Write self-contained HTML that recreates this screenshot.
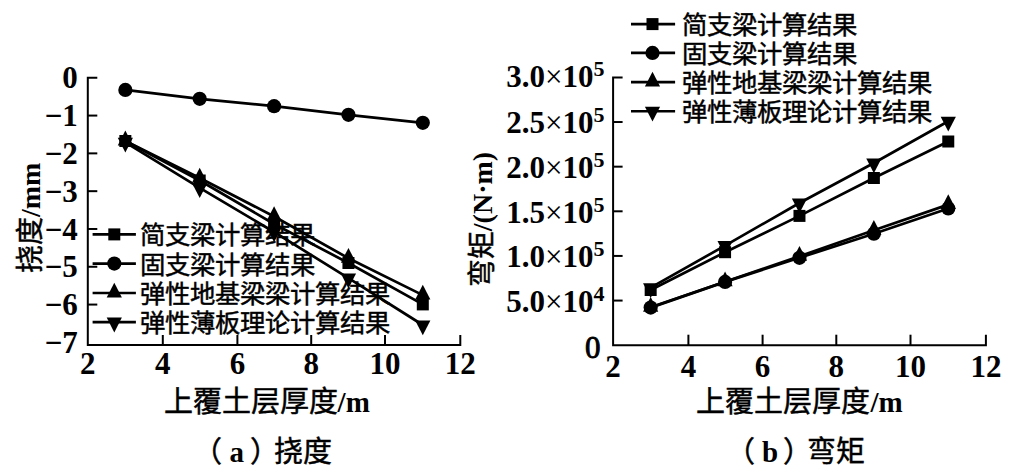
<!DOCTYPE html>
<html lang="zh-CN"><head><meta charset="utf-8"><title>chart</title>
<style>
html,body{margin:0;padding:0;background:#fff;width:1016px;height:472px;overflow:hidden}
svg{display:block}
text{font-family:"Liberation Serif",serif;font-weight:bold;fill:#000}
.tk{font-size:31px}
.sup{font-size:22px}
.x{font-weight:normal}
.z{font-size:31px;font-weight:normal;stroke:#000;stroke-width:0.9px}
.cjk{font-size:25.4px;font-weight:normal;stroke:#000;stroke-width:0.45px}
.c{font-weight:normal;stroke:#000;stroke-width:0.45px}
.ttl{font-size:29px}
.cap{font-size:29px}
.yt{font-size:28px}
</style></head><body>
<svg width="1016" height="472" viewBox="0 0 1016 472">
<rect width="1016" height="472" fill="#fff"/>
<path d="M97.3,77.77H87.8V345H460.3V335" fill="none" stroke="#000" stroke-width="2"/>
<text x="77.8" y="88.47" text-anchor="end" class="tk">0</text>
<line x1="87.8" y1="115.57" x2="97.3" y2="115.57" stroke="#000" stroke-width="2"/>
<text x="77.8" y="126.27" text-anchor="end" class="tk">−1</text>
<line x1="87.8" y1="153.37" x2="97.3" y2="153.37" stroke="#000" stroke-width="2"/>
<text x="77.8" y="164.07" text-anchor="end" class="tk">−2</text>
<line x1="87.8" y1="191.17" x2="97.3" y2="191.17" stroke="#000" stroke-width="2"/>
<text x="77.8" y="201.87" text-anchor="end" class="tk">−3</text>
<line x1="87.8" y1="228.97" x2="97.3" y2="228.97" stroke="#000" stroke-width="2"/>
<text x="77.8" y="239.67" text-anchor="end" class="tk">−4</text>
<line x1="87.8" y1="266.77" x2="97.3" y2="266.77" stroke="#000" stroke-width="2"/>
<text x="77.8" y="277.47" text-anchor="end" class="tk">−5</text>
<line x1="87.8" y1="304.57" x2="97.3" y2="304.57" stroke="#000" stroke-width="2"/>
<text x="77.8" y="315.27" text-anchor="end" class="tk">−6</text>
<text x="77.8" y="353.07" text-anchor="end" class="tk">−7</text>
<line x1="162.8" y1="345" x2="162.8" y2="335" stroke="#000" stroke-width="2"/>
<line x1="237.4" y1="345" x2="237.4" y2="335" stroke="#000" stroke-width="2"/>
<line x1="311.2" y1="345" x2="311.2" y2="335" stroke="#000" stroke-width="2"/>
<line x1="385" y1="345" x2="385" y2="335" stroke="#000" stroke-width="2"/>
<text x="87.8" y="373.5" text-anchor="middle" class="tk">2</text>
<text x="162.8" y="373.5" text-anchor="middle" class="tk">4</text>
<text x="237.4" y="373.5" text-anchor="middle" class="tk">6</text>
<text x="311.2" y="373.5" text-anchor="middle" class="tk">8</text>
<text x="385" y="373.5" text-anchor="middle" class="tk">10</text>
<text x="460.3" y="373.5" text-anchor="middle" class="tk">12</text>
<polyline points="125.35,89.9 199.7,98.8 274.1,106.2 348.45,114.8 422.8,122.8" fill="none" stroke="#000" stroke-width="2.7" stroke-linejoin="round"/><circle cx="125.35" cy="89.9" r="7.1"/><circle cx="199.7" cy="98.8" r="7.1"/><circle cx="274.1" cy="106.2" r="7.1"/><circle cx="348.45" cy="114.8" r="7.1"/><circle cx="422.8" cy="122.8" r="7.1"/>
<polyline points="125.35,141 199.7,180.5 274.1,224 348.45,263 422.8,304.4" fill="none" stroke="#000" stroke-width="2.7" stroke-linejoin="round"/><rect x="119.35" y="135" width="12" height="12"/><rect x="193.7" y="174.5" width="12" height="12"/><rect x="268.1" y="218" width="12" height="12"/><rect x="342.45" y="257" width="12" height="12"/><rect x="416.8" y="298.4" width="12" height="12"/>
<polyline points="125.35,140.9 199.7,178 274.1,216.5 348.45,258.2 422.8,295.1" fill="none" stroke="#000" stroke-width="2.7" stroke-linejoin="round"/><path d="M125.35,130.6L132.95,145.4L117.75,145.4Z"/><path d="M199.7,167.7L207.3,182.5L192.1,182.5Z"/><path d="M274.1,206.2L281.7,221L266.5,221Z"/><path d="M348.45,247.9L356.05,262.7L340.85,262.7Z"/><path d="M422.8,284.8L430.4,299.6L415.2,299.6Z"/>
<polyline points="125.35,142.3 199.7,187.8 274.1,232 348.45,278.1 422.8,325" fill="none" stroke="#000" stroke-width="2.7" stroke-linejoin="round"/><path d="M117.75,137.8L132.95,137.8L125.35,152.6Z"/><path d="M192.1,183.3L207.3,183.3L199.7,198.1Z"/><path d="M266.5,227.5L281.7,227.5L274.1,242.3Z"/><path d="M340.85,273.6L356.05,273.6L348.45,288.4Z"/><path d="M415.2,320.5L430.4,320.5L422.8,335.3Z"/>
<line x1="92.6" y1="234.4" x2="135.9" y2="234.4" stroke="#000" stroke-width="2.6"/><rect x="108.3" y="228.4" width="12" height="12"/><text class="cjk" x="139.7" y="244.4">简支梁计算结果</text><line x1="92.6" y1="263.6" x2="135.9" y2="263.6" stroke="#000" stroke-width="2.6"/><circle cx="114.3" cy="263.6" r="7.1"/><text class="cjk" x="139.7" y="273.6">固支梁计算结果</text><line x1="92.6" y1="293" x2="135.9" y2="293" stroke="#000" stroke-width="2.6"/><path d="M114.3,282.7L121.9,297.5L106.7,297.5Z"/><text class="cjk" x="139.7" y="303">弹性地基梁梁计算结果</text><line x1="92.6" y1="322.1" x2="135.9" y2="322.1" stroke="#000" stroke-width="2.6"/><path d="M106.7,317.6L121.9,317.6L114.3,332.4Z"/><text class="cjk" x="139.7" y="332.1">弹性薄板理论计算结果</text>
<text class="ttl yt" transform="translate(40,217.8) rotate(-90)" text-anchor="middle"><tspan class="c">挠度</tspan>/mm</text>
<text class="ttl" x="266.7" y="412" text-anchor="middle"><tspan class="c">上覆土层厚度</tspan>/m</text>
<text class="cap c" x="193.3" y="462">（</text><text class="cap" x="229.5" y="462">a</text><text class="cap c" x="250.2" y="462">）</text><text class="cap c" x="273.5" y="462">挠度</text>
<path d="M622.6,77.4H613.1V345.2H985.9V334.7" fill="none" stroke="#000" stroke-width="2"/>
<text x="600.5" y="357.7" text-anchor="end" class="tk z">0</text>
<line x1="613.1" y1="300.57" x2="622.6" y2="300.57" stroke="#000" stroke-width="2"/>
<text x="604.5" y="311.77" text-anchor="end" class="tk">5.0<tspan class="x">×</tspan>10<tspan class="sup" dy="-10.9">4</tspan></text>
<line x1="613.1" y1="255.93" x2="622.6" y2="255.93" stroke="#000" stroke-width="2"/>
<text x="604.5" y="267.13" text-anchor="end" class="tk">1.0<tspan class="x">×</tspan>10<tspan class="sup" dy="-10.9">5</tspan></text>
<line x1="613.1" y1="211.3" x2="622.6" y2="211.3" stroke="#000" stroke-width="2"/>
<text x="604.5" y="222.5" text-anchor="end" class="tk">1.5<tspan class="x">×</tspan>10<tspan class="sup" dy="-10.9">5</tspan></text>
<line x1="613.1" y1="166.67" x2="622.6" y2="166.67" stroke="#000" stroke-width="2"/>
<text x="604.5" y="177.87" text-anchor="end" class="tk">2.0<tspan class="x">×</tspan>10<tspan class="sup" dy="-10.9">5</tspan></text>
<line x1="613.1" y1="122.03" x2="622.6" y2="122.03" stroke="#000" stroke-width="2"/>
<text x="604.5" y="133.23" text-anchor="end" class="tk">2.5<tspan class="x">×</tspan>10<tspan class="sup" dy="-10.9">5</tspan></text>
<text x="604.5" y="87.1" text-anchor="end" class="tk">3.0<tspan class="x">×</tspan>10<tspan class="sup" dy="-10.9">5</tspan></text>
<line x1="688.4" y1="345.2" x2="688.4" y2="334.7" stroke="#000" stroke-width="2"/>
<line x1="762.6" y1="345.2" x2="762.6" y2="334.7" stroke="#000" stroke-width="2"/>
<line x1="836.3" y1="345.2" x2="836.3" y2="334.7" stroke="#000" stroke-width="2"/>
<line x1="910.5" y1="345.2" x2="910.5" y2="334.7" stroke="#000" stroke-width="2"/>
<text x="613.1" y="376.8" text-anchor="middle" class="tk">2</text>
<text x="688.4" y="376.8" text-anchor="middle" class="tk">4</text>
<text x="762.6" y="376.8" text-anchor="middle" class="tk">6</text>
<text x="836.3" y="376.8" text-anchor="middle" class="tk">8</text>
<text x="910.5" y="376.8" text-anchor="middle" class="tk">10</text>
<text x="985.9" y="376.8" text-anchor="middle" class="tk">12</text>
<polyline points="650.67,307.6 725.07,281.9 799.47,257.8 873.87,233.7 948.27,208.5" fill="none" stroke="#000" stroke-width="2.7" stroke-linejoin="round"/><circle cx="650.67" cy="307.6" r="7.1"/><circle cx="725.07" cy="281.9" r="7.1"/><circle cx="799.47" cy="257.8" r="7.1"/><circle cx="873.87" cy="233.7" r="7.1"/><circle cx="948.27" cy="208.5" r="7.1"/>
<polyline points="650.67,307.3 725.07,281.8 799.47,256.2 873.87,230.2 948.27,204.6" fill="none" stroke="#000" stroke-width="2.7" stroke-linejoin="round"/><path d="M650.67,297L658.27,311.8L643.07,311.8Z"/><path d="M725.07,271.5L732.67,286.3L717.47,286.3Z"/><path d="M799.47,245.9L807.07,260.7L791.87,260.7Z"/><path d="M873.87,219.9L881.47,234.7L866.27,234.7Z"/><path d="M948.27,194.3L955.87,209.1L940.67,209.1Z"/>
<polyline points="650.67,290 725.07,252.2 799.47,215.9 873.87,178 948.27,141.5" fill="none" stroke="#000" stroke-width="2.7" stroke-linejoin="round"/><rect x="644.67" y="284" width="12" height="12"/><rect x="719.07" y="246.2" width="12" height="12"/><rect x="793.47" y="209.9" width="12" height="12"/><rect x="867.87" y="172" width="12" height="12"/><rect x="942.27" y="135.5" width="12" height="12"/>
<polyline points="650.67,287.7 725.07,245.6 799.47,203 873.87,163 948.27,121.2" fill="none" stroke="#000" stroke-width="2.7" stroke-linejoin="round"/><path d="M643.07,283.2L658.27,283.2L650.67,298Z"/><path d="M717.47,241.1L732.67,241.1L725.07,255.9Z"/><path d="M791.87,198.5L807.07,198.5L799.47,213.3Z"/><path d="M866.27,158.5L881.47,158.5L873.87,173.3Z"/><path d="M940.67,116.7L955.87,116.7L948.27,131.5Z"/>
<line x1="631" y1="24.1" x2="675.1" y2="24.1" stroke="#000" stroke-width="2.6"/><rect x="646.5" y="18.1" width="12" height="12"/><text class="cjk" x="682" y="34.1">简支梁计算结果</text><line x1="631" y1="52.9" x2="675.1" y2="52.9" stroke="#000" stroke-width="2.6"/><circle cx="652.5" cy="52.9" r="7.1"/><text class="cjk" x="682" y="62.9">固支梁计算结果</text><line x1="631" y1="82.1" x2="675.1" y2="82.1" stroke="#000" stroke-width="2.6"/><path d="M652.5,71.8L660.1,86.6L644.9,86.6Z"/><text class="cjk" x="682" y="92.1">弹性地基梁梁计算结果</text><line x1="631" y1="111.3" x2="675.1" y2="111.3" stroke="#000" stroke-width="2.6"/><path d="M644.9,106.8L660.1,106.8L652.5,121.6Z"/><text class="cjk" x="682" y="121.3">弹性薄板理论计算结果</text>
<text class="ttl yt" transform="translate(492,219.5) rotate(-90)" text-anchor="middle"><tspan class="c">弯矩</tspan>/(N·m)</text>
<text class="ttl" x="799.5" y="412" text-anchor="middle"><tspan class="c">上覆土层厚度</tspan>/m</text>
<text class="cap c" x="725.7" y="462">（</text><text class="cap" x="762" y="462">b</text><text class="cap c" x="783.4" y="462">）</text><text class="cap c" x="807.4" y="462">弯矩</text>
</svg></body></html>
